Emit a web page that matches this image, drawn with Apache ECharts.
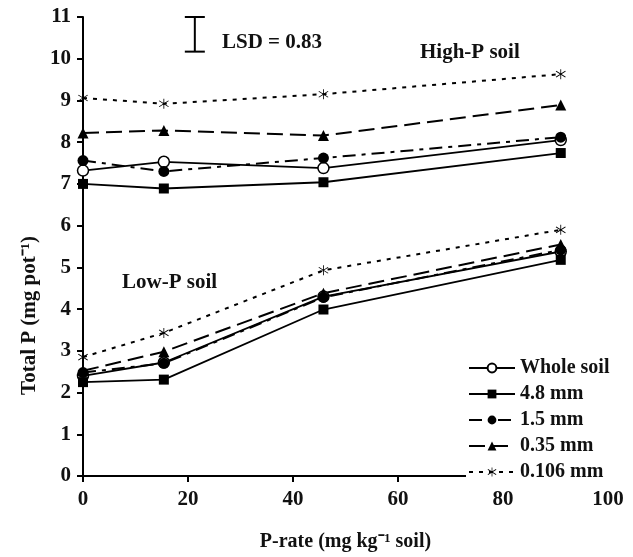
<!DOCTYPE html>
<html><head><meta charset="utf-8">
<script src="https://cdn.jsdelivr.net/npm/echarts@6/dist/echarts.min.js"></script>
<style>html,body{margin:0;padding:0;background:#fff}#c{width:633px;height:557px}</style>
</head><body><div id="c"></div>
<script>
const pRate = [0, 15.4, 45.8, 91];
const xTicks = [0, 20, 40, 60, 80, 100];
const yTicks = [0,1,2,3,4,5,6,7,8,9,10,11];
const seriesNames = ['Whole soil', '4.8 mm', '1.5 mm', '0.35 mm', '0.106 mm'];
// High-P soil
const highWhole = [7.32, 7.53, 7.38, 8.05];
const high48 = [7.0, 6.89, 7.04, 7.74];
const high15 = [7.56, 7.3, 7.62, 8.12];
const high035 = [8.22, 8.28, 8.16, 8.89];
const high0106 = [9.06, 8.92, 9.15, 9.63];
// Low-P soil
const lowWhole = [2.4, 2.72, 4.3, 5.38];
const low48 = [2.25, 2.31, 3.99, 5.18];
const low15 = [2.48, 2.7, 4.28, 5.42];
const low035 = [2.52, 2.98, 4.38, 5.55];
const low0106 = [2.85, 3.43, 4.93, 5.9];
const lsd = 0.83;
const lsdPos = [21.3, 10.585];

const FONT = '"Liberation Serif", "Times New Roman", serif';
const asterisk = 'path://M-0.07,-1L0.07,-1L0.07,1L-0.07,1Z M-0.752,-0.664L0.848,0.536L0.752,0.664L-0.848,-0.536Z M-0.848,0.536L0.752,-0.664L0.848,-0.536L-0.752,0.664Z';

const styles = {
  'Whole soil': {symbol:'circle', size:11, item:{color:'#fff', borderColor:'#000', borderWidth:1.5}, line:{type:'solid', width:1.8}},
  '4.8 mm': {symbol:'rect', size:10, item:{color:'#000'}, line:{type:'solid', width:1.8}},
  '1.5 mm': {symbol:'circle', size:11, item:{color:'#000'}, line:{type:[13,6,4,6], width:2}},
  '0.35 mm': {symbol:'triangle', size:11, item:{color:'#000'}, line:{type:[16,7], width:2}},
  '0.106 mm': {symbol:asterisk, size:10, item:{color:'#000'}, line:{type:[4,6], width:2}}
};
const highData = [highWhole, high48, high15, high035, high0106];
const lowData = [lowWhole, low48, low15, low035, low0106];

function mk(name, vals){
  const s = styles[name];
  return {
    type:'line', name:name, data: pRate.map((x,i)=>[x, vals[i]]),
    symbol:s.symbol, symbolSize:s.size, showAllSymbol:true,
    itemStyle:Object.assign({}, s.item),
    lineStyle:{color:'#000', width:s.line.width, type:s.line.type},
    emphasis:{disabled:true}, animation:false, z:3
  };
}
const series = [];
seriesNames.forEach((n,i)=>{ series.push(mk(n, highData[i])); series.push(mk(n, lowData[i])); });
series.push({
  type:'custom', name:'LSD', data:[[lsdPos[0], lsdPos[1], lsd]], animation:false, silent:true,
  renderItem:function(params, api){
    const x = api.value(0), yc = api.value(1), h = api.value(2);
    const top = api.coord([x, yc + h/2]);
    const bot = api.coord([x, yc - h/2]);
    const w = 10;
    const st = {stroke:'#000', lineWidth:2};
    return {type:'group', children:[
      {type:'line', shape:{x1:top[0], y1:top[1], x2:bot[0], y2:bot[1]}, style:st},
      {type:'line', shape:{x1:top[0]-w, y1:top[1], x2:top[0]+w, y2:top[1]}, style:st},
      {type:'line', shape:{x1:bot[0]-w, y1:bot[1], x2:bot[0]+w, y2:bot[1]}, style:st}
    ]};
  }
});

const chart = echarts.init(document.getElementById('c'), null, {renderer:'canvas'});
chart.setOption({
  backgroundColor:'#fff',
  animation:false,
  grid:{left:83, right:25, top:17, bottom:71, containLabel:false},
  xAxis:{
    type:'value', min:xTicks[0], max:xTicks[xTicks.length-1], interval:20,
    axisLine:{lineStyle:{color:'#000', width:2}},
    axisTick:{show:true, length:6, lineStyle:{color:'#000', width:2}},
    splitLine:{show:false},
    axisLabel:{color:'#111', fontFamily:FONT, fontWeight:'bold', fontSize:21, margin:13},
    name:'P-rate (mg kg\u207B\u00B9 soil)', nameLocation:'middle', nameGap:56,
    nameTextStyle:{color:'#111', fontFamily:FONT, fontWeight:'bold', fontSize:20}
  },
  yAxis:{
    type:'value', min:yTicks[0], max:yTicks[yTicks.length-1], interval:1,
    axisLine:{show:true, lineStyle:{color:'#000', width:2}},
    axisTick:{show:true, length:6, lineStyle:{color:'#000', width:2}},
    splitLine:{show:false},
    axisLabel:{color:'#111', fontFamily:FONT, fontWeight:'bold', fontSize:21, margin:12}
  },
  legend:{
    data:seriesNames, orient:'vertical', left:466, top:356,
    itemWidth:46, itemHeight:11, itemGap:6,
    backgroundColor:'#fff', padding:[2,4,4,2],
    textStyle:{color:'#111', fontFamily:FONT, fontWeight:'bold', fontSize:20, lineHeight:20},
    selectedMode:false
  },
  graphic:[
    {type:'text', left:222, top:32, style:{text:'LSD = 0.83', fill:'#111', font:'bold 21px ' + FONT}},
    {type:'text', left:420, top:42, style:{text:'High-P soil', fill:'#111', font:'bold 21px ' + FONT}},
    {type:'text', left:122, top:272, style:{text:'Low-P soil', fill:'#111', font:'bold 21px ' + FONT}},
    {type:'text', left:19, top:236, rotation:Math.PI/2,
      style:{text:'Total P (mg pot\u207B\u00B9)', fill:'#111', font:'bold 21px ' + FONT}}
  ],
  series:series
});
</script></body></html>
